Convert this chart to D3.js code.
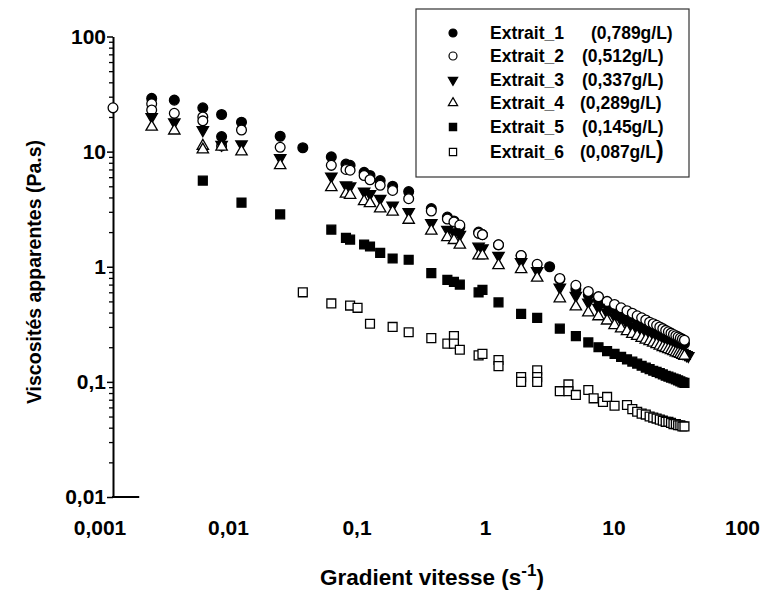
<!DOCTYPE html>
<html>
<head>
<meta charset="utf-8">
<script src="https://cdn.jsdelivr.net/npm/d3@7"></script>
<style>
  body { margin: 0; background: #fff; }
  text { font-family: "Liberation Sans", Arial, sans-serif; font-weight: bold; fill: #000; }
</style>
</head>
<body>
<svg id="chart" width="778" height="600"></svg>
<script>
// data: [gradient (1/s), viscosity (Pa.s)]
var extrait1 = [[0.002,29],[0.003,28],[0.005,24],[0.007,21],[0.007,13.5],[0.01,18],[0.02,13.6],[0.03,10.8],
  [0.05,9.0],[0.065,7.8],[0.07,7.6],[0.09,6.6],[0.1,6.2],[0.12,5.6],[0.15,5.0],[0.2,4.5],[0.3,3.2],[0.4,2.7],
  [0.45,2.5],[0.5,2.2],[0.7,2.0],[0.75,1.9],[1,1.55],[1.5,1.25],[2.5,1.0],[3,0.78],[4,0.64],[5,0.57],[6,0.51],
  [7,0.47],[8,0.43],[9,0.405],[10,0.385],[11,0.365],[12,0.35],[13,0.335],[14,0.32],[15,0.31],[16,0.3],[17,0.29],
  [18,0.28],[19,0.27],[20,0.262],[21,0.255],[22,0.248],[23,0.242],[24,0.236],[25,0.23],[26,0.225],[27,0.22],[28,0.215]];
var extrait2 = [[0.001,24],[0.002,26],[0.002,23],[0.003,21.5],[0.005,20],[0.005,18.5],[0.007,11.2],[0.01,15.4],
  [0.02,10.9],[0.05,7.6],[0.065,7.0],[0.07,6.9],[0.09,6.2],[0.1,5.7],[0.12,5.1],[0.15,4.6],[0.2,3.9],[0.3,3.05],
  [0.4,2.6],[0.45,2.45],[0.5,2.3],[0.7,1.95],[0.75,1.9],[1,1.55],[1.5,1.25],[2,1.05],[3,0.79],[4,0.69],[5,0.61],
  [6,0.55],[7,0.5],[8,0.47],[9,0.44],[10,0.415],[11,0.395],[12,0.375],[13,0.36],[14,0.345],[15,0.33],[16,0.32],
  [17,0.31],[18,0.3],[19,0.29],[20,0.28],[21,0.272],[22,0.265],[23,0.258],[24,0.252],[25,0.246],[26,0.24],[27,0.235],[28,0.23]];
var extrait3 = [[0.002,20],[0.003,18],[0.005,15.4],[0.007,11.5],[0.01,11.6],[0.02,8.8],[0.05,6.1],[0.065,5.1],
  [0.07,5.0],[0.09,4.5],[0.1,4.3],[0.12,3.9],[0.15,3.4],[0.2,3.0],[0.3,2.4],[0.4,2.1],[0.45,2.0],[0.5,1.9],[0.7,1.5],
  [0.75,1.45],[1,1.25],[1.5,1.1],[2,0.92],[3,0.66],[4,0.56],[5,0.49],[6,0.44],[7,0.4],[8,0.37],[9,0.345],[10,0.325],
  [11,0.305],[12,0.29],[13,0.275],[14,0.265],[15,0.255],[16,0.245],[17,0.235],[18,0.228],[19,0.22],[20,0.214],
  [21,0.208],[22,0.202],[23,0.197],[24,0.192],[25,0.187],[26,0.183],[27,0.179],[28,0.175],[29,0.171],[30,0.168]];
var extrait4 = [[0.002,16.4],[0.003,15.2],[0.005,11.2],[0.005,10.4],[0.007,11.0],[0.01,10.0],[0.02,7.6],[0.05,4.9],
  [0.065,4.3],[0.07,4.2],[0.09,3.7],[0.1,3.55],[0.12,3.2],[0.15,3.0],[0.2,2.55],[0.3,2.05],[0.4,1.8],[0.45,1.7],
  [0.5,1.55],[0.7,1.25],[0.75,1.25],[1,1.03],[1.5,0.95],[2,0.8],[3,0.53],[4,0.45],[5,0.4],[6,0.37],[7,0.34],[8,0.31],
  [9,0.29],[10,0.275],[11,0.26],[12,0.25],[13,0.24],[14,0.232],[15,0.225],[16,0.218],[17,0.212],[18,0.206],[19,0.2],
  [20,0.196],[21,0.192],[22,0.188],[23,0.184],[24,0.18],[25,0.177],[26,0.174],[27,0.171],[28,0.168]];
var extrait5 = [[0.005,5.6],[0.01,3.6],[0.02,2.85],[0.05,2.1],[0.065,1.78],[0.07,1.72],[0.09,1.56],[0.1,1.5],
  [0.12,1.32],[0.15,1.18],[0.2,1.15],[0.3,0.88],[0.4,0.77],[0.45,0.74],[0.5,0.7],[0.7,0.6],[0.75,0.63],[1,0.49],
  [1.5,0.39],[2,0.36],[3,0.29],[4,0.25],[5,0.22],[6,0.2],[7,0.185],[8,0.175],[9,0.165],[10,0.157],[11,0.15],
  [12,0.144],[13,0.138],[14,0.133],[15,0.129],[16,0.125],[17,0.122],[18,0.119],[19,0.116],[20,0.113],[21,0.111],
  [22,0.109],[23,0.107],[24,0.105],[25,0.103],[26,0.101],[27,0.099],[28,0.098]];
var extrait6 = [[0.03,0.6],[0.05,0.48],[0.07,0.46],[0.08,0.44],[0.1,0.32],[0.15,0.3],[0.2,0.27],[0.3,0.24],
  [0.4,0.215],[0.45,0.25],[0.45,0.215],[0.5,0.19],[0.7,0.17],[0.75,0.175],[1,0.155],[1,0.137],[1.5,0.11],[1.5,0.1],
  [2,0.126],[2,0.11],[2,0.1],[3,0.083],[3.5,0.095],[3.5,0.083],[4,0.077],[5,0.085],[5.5,0.072],[6.5,0.067],[7,0.074],
  [8,0.062],[10,0.063],[11,0.058],[12,0.055],[13,0.053],[14,0.052],[15,0.05],[16,0.049],[17,0.048],[18,0.047],
  [19,0.046],[20,0.045],[21,0.045],[22,0.044],[23,0.043],[24,0.043],[25,0.042],[26,0.042],[27,0.041],[28,0.041]];

var seriesNames = ['Extrait_1','Extrait_2','Extrait_3','Extrait_4','Extrait_5','Extrait_6'];
var concentrations = ['(0,789g/L)','(0,512g/L)','(0,337g/L)','(0,289g/L)','(0,145g/L)','(0,087g/L)'];
var seriesData = [extrait1, extrait2, extrait3, extrait4, extrait5, extrait6];
var xTicks = [0.001, 0.01, 0.1, 1, 10, 100];
var yTicks = [0.01, 0.1, 1, 10, 100];

// marker look per series
var markers = [
  {type: 'circle',   filled: true},
  {type: 'circle',   filled: false},
  {type: 'triDown',  filled: true},
  {type: 'triUp',    filled: false},
  {type: 'square',   filled: true},
  {type: 'square',   filled: false}
];

var svg = d3.select('#chart');
var fr = d3.formatLocale({decimal: ',', thousands: '\u00a0', grouping: [3], currency: ['', '']});
var fmt = fr.format('~g');

var x = d3.scaleLog().domain([0.001, 100]).range([113, 755.5]),
    y = d3.scaleLog().domain([0.01, 100]).range([497, 36.5]);

// y axis: minor ticks then major ticks with labels
var minorY = [];
[0.01, 0.1, 1, 10].forEach(function(d) { for (var k = 2; k <= 9; k++) minorY.push(k * d); });

var gMinor = svg.append('g').attr('transform', 'translate(113,0)')
  .call(d3.axisLeft(y).tickValues(minorY).tickSize(4).tickSizeOuter(0).tickFormat(''));
gMinor.select('.domain').remove();
gMinor.selectAll('line').attr('stroke', '#000').attr('stroke-width', 1.3);

var gMajor = svg.append('g').attr('transform', 'translate(113,0)')
  .call(d3.axisLeft(y).tickValues(yTicks).tickSize(6).tickSizeOuter(0).tickPadding(1).tickFormat(fmt));
gMajor.select('.domain').attr('stroke', '#000').attr('stroke-width', 2);
gMajor.selectAll('line').attr('stroke', '#000').attr('stroke-width', 1.5);
gMajor.attr('font-size', 21).attr('font-family', null);
gMajor.selectAll('text').attr('font-size', 21);

// short bottom axis stub
svg.append('line')
  .attr('x1', x(0.001) - 1).attr('x2', x(0.0016))
  .attr('y1', y(0.01)).attr('y2', y(0.01))
  .attr('stroke', '#000').attr('stroke-width', 2);

// x tick labels (sit a bit left of their decade)
svg.append('g').selectAll('text')
  .data(xTicks)
  .enter()
  .append('text')
  .attr('x', d => x(d) - 13)
  .attr('y', 535)
  .attr('text-anchor', 'middle')
  .attr('font-size', 21)
  .text(d => fmt(d));

// axis titles
var xt = svg.append('text')
  .attr('x', 432).attr('y', 585)
  .attr('text-anchor', 'middle')
  .attr('font-size', 22.5);
xt.append('tspan').text('Gradient vitesse (s');
xt.append('tspan').attr('dy', -9).attr('font-size', 17).text('-1');
xt.append('tspan').attr('dy', 9).text(')');

svg.append('text')
  .attr('transform', 'translate(41,272) rotate(-90)')
  .attr('text-anchor', 'middle')
  .attr('font-size', 19.5)
  .text('Viscosités apparentes (Pa.s)');

function markerPath(type, size) {
  if (type === 'circle') return d3.symbol().type(d3.symbolCircle).size(size)();
  if (type === 'square') return d3.symbol().type(d3.symbolSquare).size(size * 1.05)();
  return d3.symbol().type(d3.symbolTriangle).size(size * 0.75)();
}

function drawMarkers(g, data, m, size) {
  g.selectAll('path')
    .data(data)
    .enter()
    .append('path')
    .attr('d', markerPath(m.type, size))
    .attr('transform', d => 'translate(' + x(d[0]) + ',' + y(d[1]) + ')' + (m.type === 'triDown' ? ' rotate(180)' : ''))
    .attr('fill', m.filled ? '#000' : '#fff')
    .attr('stroke', '#000')
    .attr('stroke-width', 1.3);
}

seriesData.forEach(function(data, i) {
  drawMarkers(svg.append('g').attr('class', 'series-' + (i + 1)), data, markers[i], 75);
});

// legend
var legend = svg.append('g').attr('class', 'legend');
legend.append('rect')
  .attr('x', 416).attr('y', 9).attr('width', 273).attr('height', 168)
  .attr('fill', '#fff').attr('stroke', '#333').attr('stroke-width', 1.2);

var rowY = [33, 56, 80, 103, 127, 152];
var parenX = [591, 582, 582, 580, 582, 580];
seriesNames.forEach(function(name, i) {
  var row = legend.append('g').attr('transform', 'translate(0,' + rowY[i] + ')');
  var m = markers[i];
  row.append('path')
    .attr('d', markerPath(m.type, 50))
    .attr('transform', 'translate(453,0)' + (m.type === 'triDown' ? ' rotate(180)' : ''))
    .attr('fill', m.filled ? '#000' : '#fff')
    .attr('stroke', '#000')
    .attr('stroke-width', 1.2);
  row.append('text').attr('x', 490).attr('y', 6).attr('font-size', 17.5).text(name);
  var t = row.append('text').attr('x', parenX[i]).attr('y', 6).attr('font-size', 17.5);
  if (i === 5) {
    t.append('tspan').text(concentrations[i].slice(0, -1));
    t.append('tspan').attr('font-size', 23).text(')');
  } else {
    t.text(concentrations[i]);
  }
});
</script>
</body>
</html>
